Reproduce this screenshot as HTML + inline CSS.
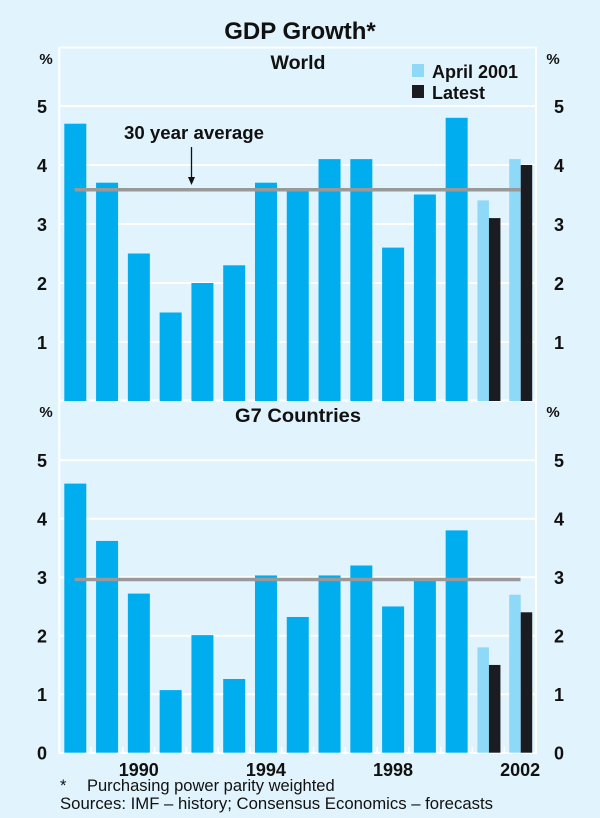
<!DOCTYPE html>
<html><head><meta charset="utf-8"><style>
body{margin:0;background:#e1f3fc;}
svg{display:block;font-family:"Liberation Sans",Arial,sans-serif;font-weight:bold;}
</style></head><body>
<svg id="chart" width="600" height="818" viewBox="0 0 600 818" xmlns="http://www.w3.org/2000/svg">
<rect x="0" y="0" width="600" height="818" fill="#e1f3fc"/>
<text x="300" y="39" text-anchor="middle" font-size="24" fill="#111">GDP Growth*</text>
<g id="g"></g>
<text x="60" y="791" font-size="16.5" fill="#111" style="font-weight:normal">*<tspan x="87">Purchasing power parity weighted</tspan></text>
<text x="60" y="809" font-size="16.5" fill="#111" style="font-weight:normal" textLength="433" lengthAdjust="spacingAndGlyphs">Sources: IMF – history; Consensus Economics – forecasts</text>
</svg>
<script>
const years = [1988,1989,1990,1991,1992,1993,1994,1995,1996,1997,1998,1999,2000,2001,2002];
const worldHistory = [4.7,3.7,2.5,1.5,2.0,2.3,3.7,3.6,4.1,4.1,2.6,3.5,4.8,null,null];
const worldApril = [null,null,null,null,null,null,null,null,null,null,null,null,null,3.4,4.1];
const worldLatest = [null,null,null,null,null,null,null,null,null,null,null,null,null,3.1,4.0];
const worldAverage = 3.58;
const g7History = [4.6,3.62,2.72,1.07,2.01,1.26,3.03,2.32,3.03,3.2,2.5,2.95,3.8,null,null];
const g7April = [null,null,null,null,null,null,null,null,null,null,null,null,null,1.8,2.7];
const g7Latest = [null,null,null,null,null,null,null,null,null,null,null,null,null,1.5,2.4];
const g7Average = 2.96;
const worldTicks = [1,2,3,4,5];
const g7Ticks = [0,1,2,3,4,5];
const xTickLabels = [1990,1994,1998,2002];

const NS="http://www.w3.org/2000/svg";
const root=document.getElementById('g');
const L=59.3,R=536,N=years.length,cw=(R-L)/N;
function xs(i){return L+i*cw;}
function mk(t,a,p){const e=document.createElementNS(NS,t);for(const k in a)e.setAttribute(k,a[k]);(p||root).appendChild(e);return e;}
function panel(name,top,zero,unit,hist,apr,lat,avg,ticks,title,tw){
  const y=v=>zero-v*unit;
  const grp=mk('g',{});
  
  
  ticks.forEach(t=>{ if(t>0){const l=mk('line',{x1:L,x2:R,y1:y(t),y2:y(t),stroke:'#fff','stroke-width':2},grp);
    }
    const a=mk('text',{x:42,y:y(t)+7,'text-anchor':'middle','font-size':18,fill:'#111'},grp);a.textContent=t;
    
    const b=mk('text',{x:559,y:y(t)+7,'text-anchor':'middle','font-size':18,fill:'#111'},grp);b.textContent=t;
    
  });
  [[46],[553]].forEach(p=>{const e=mk('text',{x:p[0],y:top+17,'text-anchor':'middle','font-size':15,fill:'#111'},grp);e.textContent='%';
    });
  const tt=mk('text',{x:298,y:top+22,'text-anchor':'middle','font-size':19,fill:'#111',textLength:tw,lengthAdjust:'spacingAndGlyphs'},grp);tt.textContent=title;
  
  hist.forEach((v,i)=>{if(v==null)return;const r=mk('rect',{x:xs(i)+5,y:y(v),width:22,height:v*unit,fill:'#00aeef'},grp);
    });
  apr.forEach((v,i)=>{if(v==null)return;const r=mk('rect',{x:xs(i)+5,y:y(v),width:11.5,height:v*unit,fill:'#8ed8f8'},grp);
    });
  lat.forEach((v,i)=>{if(v==null)return;const r=mk('rect',{x:xs(i)+16.5,y:y(v),width:11.5,height:v*unit,fill:'#1b1c21'},grp);
    });
  const av=mk('line',{x1:74.6,x2:520.5,y1:y(avg),y2:y(avg),stroke:'#999','stroke-width':3.5},grp);
  
  return y;
}
const fr=mk('path',{d:`M${L},47 V753 H${R} V47 M${L},47.5 H${R} M${L},400.5 H${R}`,fill:'none',stroke:'#fff','stroke-width':2});

panel('world',47,401,59,worldHistory,worldApril,worldLatest,worldAverage,worldTicks,'World',55);
panel('g7',400,752.7,58.5,g7History,g7April,g7Latest,g7Average,g7Ticks,'G7 Countries',126);
years.forEach((yr,i)=>{const t=mk('line',{x1:xs(i),x2:xs(i),y1:753,y2:747,stroke:'#fff','stroke-width':1.5});
  });
xTickLabels.forEach(yr=>{const i=years.indexOf(yr);const t=mk('text',{x:xs(i)+cw/2,y:776,'text-anchor':'middle','font-size':18,fill:'#111'});
  t.textContent=yr;});
const lg=mk('g',{});
mk('rect',{x:412,y:64,width:12,height:13,fill:'#8ed8f8'},lg);
mk('rect',{x:412,y:85,width:12,height:13,fill:'#1b1c21'},lg);
const la=mk('text',{x:432,y:78,'font-size':18,fill:'#111',textLength:86,lengthAdjust:'spacingAndGlyphs'},lg);la.textContent='April 2001';

const lb=mk('text',{x:432,y:99,'font-size':18,fill:'#111'},lg);lb.textContent='Latest';

const an=mk('text',{x:124,y:139,'font-size':18,fill:'#111',textLength:140,lengthAdjust:'spacingAndGlyphs'});an.textContent='30 year average';

const ar=mk('line',{x1:191.5,x2:191.5,y1:147,y2:180,stroke:'#111','stroke-width':1.3});

mk('path',{d:'M188,177 L195,177 L191.5,185 Z',fill:'#111'});
</script>
</body></html>
